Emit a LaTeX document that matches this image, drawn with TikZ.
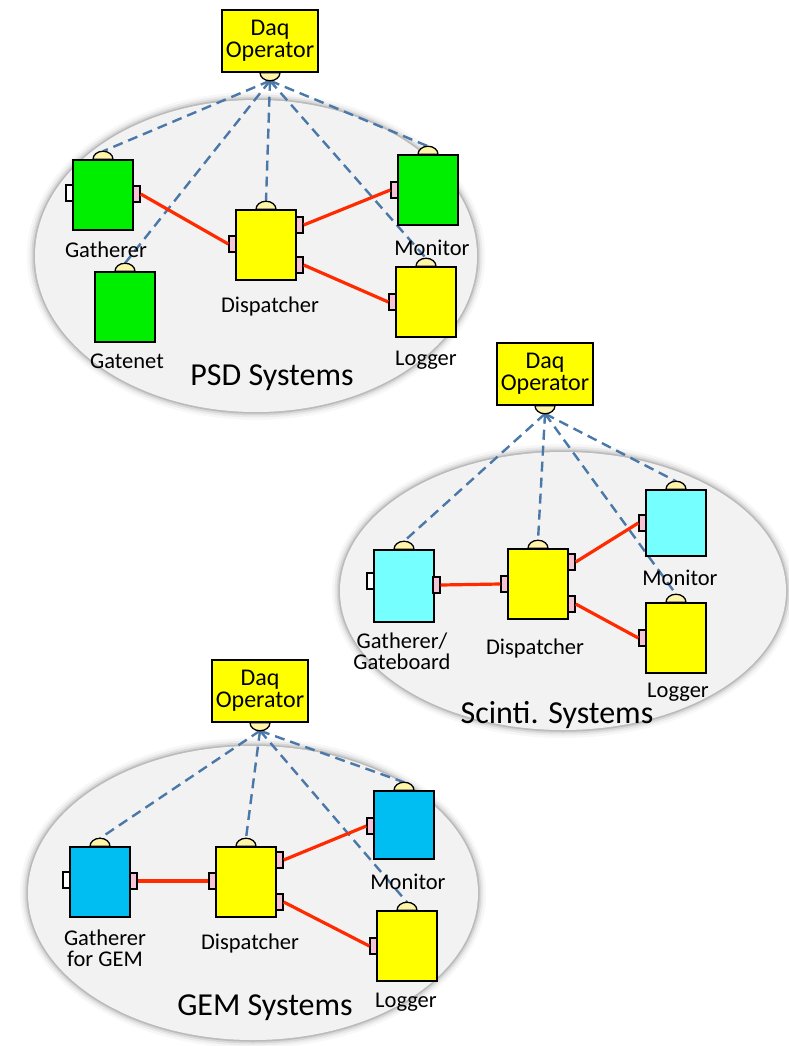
\documentclass[tikz,border=0pt]{standalone}
\usepackage{fontspec}
\setmainfont{Carlito}
\pgfdeclarelayer{back}
\pgfdeclarelayer{mid}
\pgfsetlayers{back,mid,main}
\definecolor{cgreen}{HTML}{00EE00}
\definecolor{cyel}{HTML}{FFFF00}
\definecolor{ccyan}{HTML}{75FFFF}
\definecolor{cblue}{HTML}{00BDF2}
\definecolor{cport}{HTML}{FFF5A8}
\definecolor{cpink}{HTML}{F6C2D6}
\definecolor{cdash}{HTML}{4A78A8}
\definecolor{cred}{HTML}{FF2A00}
\definecolor{cell}{HTML}{F2F2F2}
\tikzset{
 unitbox/.style={draw=black, line width=1.5pt, minimum width=60pt, minimum height=70pt, inner sep=0pt},
 opbox/.style={draw=black, line width=1.5pt, fill=cyel, minimum width=96pt, minimum height=62pt, inner sep=0pt, align=center, font=\fontsize{24}{25}\selectfont},
 tport/.style={draw=black, line width=1.3pt, fill=cport},
 pport/.style={draw=black, line width=1.4pt, fill=cpink, minimum width=7pt, minimum height=16pt, inner sep=0pt},
 wport/.style={draw=black, line width=1.4pt, fill=white, minimum width=7pt, minimum height=16pt, inner sep=0pt},
 lbl/.style={font=\fontsize{22.5}{24}\selectfont, align=center, inner sep=0pt},
 syslbl/.style={font=\fontsize{32}{34}\selectfont, inner sep=0pt},
 dline/.style={draw=cdash, line width=2.4pt, dash pattern=on 10pt off 6pt},
 rline/.style={draw=cred, line width=3.2pt},
}
\newcommand{\mkunit}[5]{% name, x, y, color, height
 \node[unitbox, fill=#4, minimum height=#5pt] (#1) at (#2,#3) {};
 \draw[tport] ([xshift=-10pt]#1.north) arc (180:0:10pt and 8pt) -- cycle;
 \coordinate (#1t) at ([yshift=8pt]#1.north);
}
\newcommand{\mkop}[3]{% name, x, y
 \node[opbox] (#1) at (#2,#3) {Daq\\[-3pt]Operator};
 \draw[tport] ([xshift=-10pt]#1.south) arc (180:360:10pt and 8pt) -- cycle;
 \coordinate (#1b) at ([yshift=-8pt]#1.south);
}
\newcommand{\mkell}[4]{% x y rx ry
 \begin{pgfonlayer}{back}
 \foreach \w/\o in {16/0.05,11/0.08,7/0.13,3.5/0.22}{
  \draw[line width=\w pt, gray!70!black, opacity=\o] (#1,#2) ellipse [x radius=#3, y radius=#4];
 }
 \fill[cell] (#1,#2) ellipse [x radius=#3, y radius=#4];
 \end{pgfonlayer}
}
\begin{document}
\begin{tikzpicture}[x=1pt,y=-1pt]
\useasboundingbox (0,0) rectangle (788,1046);

% ================= PSD =================
\mkell{256}{256}{221}{156}
\mkop{op1}{270}{41}
\mkunit{g1}{103}{195}{cgreen}{70}
\mkunit{gn}{125}{307}{cgreen}{70}
\mkunit{d1}{266}{245}{cyel}{70}
\mkunit{m1}{428}{190}{cgreen}{70}
\mkunit{l1}{426}{302}{cyel}{70}
\node[wport] (g1l) at (69.5,193) {};
\node[pport] (g1r) at (136.5,194) {};
\node[pport] (d1l) at (232.5,244) {};
\node[pport] (d1a) at (299.5,225) {};
\node[pport] (d1b) at (299.5,265) {};
\node[pport] (m1l) at (394.5,190) {};
\node[pport] (l1l) at (392.5,302) {};
\node[lbl] (g1lab) at (106,250) {Gatherer};
\node[lbl] (gnlab) at (127,361) {Gatenet};
\node[lbl] (d1lab) at (270,306) {Dispatcher};
\node[lbl] (m1lab) at (432,248) {Monitor};
\node[lbl] (l1lab) at (426,360) {Logger};
\node[syslbl] (psd) at (272,378) {PSD Systems};
\begin{pgfonlayer}{mid}
\foreach \t in {g1t,gnt,d1t,m1t,l1t}{\draw[dline] (op1b) -- (\t);}
\end{pgfonlayer}
\draw[rline] (g1r.east) -- (d1l.west);
\draw[rline] (d1a.east) -- (m1l.west);
\draw[rline] (d1b.east) -- (l1l.west);

% ================= Scinti =================
\mkell{563}{591}{223}{139}
\mkop{op2}{545}{374}
\mkunit{g2}{404}{586}{ccyan}{72}
\mkunit{d2}{538}{584}{cyel}{70}
\mkunit{m2}{676}{523}{ccyan}{66}
\mkunit{l2}{676}{638}{cyel}{70}
\node[wport] (g2l) at (370.5,581) {};
\node[pport] (g2r) at (436.5,585) {};
\node[pport] (d2l) at (504.5,584) {};
\node[pport] (d2a) at (571.5,562) {};
\node[pport] (d2b) at (571.5,604) {};
\node[pport] (m2l) at (642.5,523) {};
\node[pport] (l2l) at (642.5,638) {};
\node[lbl] (g2lab) at (402,651) {Gatherer/\\[-3pt]Gateboard};
\node[lbl] (d2lab) at (535,648) {Dispatcher};
\node[lbl] (m2lab) at (680,578) {Monitor};
\node[lbl] (l2lab) at (678,692) {Logger};
\node[syslbl] (sci) at (557,715) {Scinti. Systems};
\begin{pgfonlayer}{mid}
\foreach \t in {g2t,d2t,m2t,l2t}{\draw[dline] (op2b) -- (\t);}
\end{pgfonlayer}
\draw[rline] (g2r.east) -- (d2l.west);
\draw[rline] (d2a.east) -- (m2l.west);
\draw[rline] (d2b.east) -- (l2l.west);

% ================= GEM =================
\mkell{253}{893}{225}{147}
\mkop{op3}{260}{691}
\mkunit{g3}{100}{882}{cblue}{70}
\mkunit{d3}{246}{882}{cyel}{70}
\mkunit{m3}{404}{825}{cblue}{68}
\mkunit{l3}{407}{946}{cyel}{70}
\node[wport] (g3l) at (66.5,880) {};
\node[pport] (g3r) at (133.5,881) {};
\node[pport] (d3l) at (212.5,881) {};
\node[pport] (d3a) at (279.5,860) {};
\node[pport] (d3b) at (279.5,902) {};
\node[pport] (m3l) at (370.5,826) {};
\node[pport] (l3l) at (373.5,946) {};
\node[lbl] (g3lab) at (105,948) {Gatherer\\[-3pt]for GEM};
\node[lbl] (d3lab) at (250,943) {Dispatcher};
\node[lbl] (m3lab) at (408,882) {Monitor};
\node[lbl] (l3lab) at (406,1002) {Logger};
\node[syslbl] (gem) at (265,1008) {GEM Systems};
\begin{pgfonlayer}{mid}
\foreach \t in {g3t,d3t,m3t,l3t}{\draw[dline] (op3b) -- (\t);}
\end{pgfonlayer}
\draw[rline] (g3r.east) -- (d3l.west);
\draw[rline] (d3a.east) -- (m3l.west);
\draw[rline] (d3b.east) -- (l3l.west);
\end{tikzpicture}
\end{document}
